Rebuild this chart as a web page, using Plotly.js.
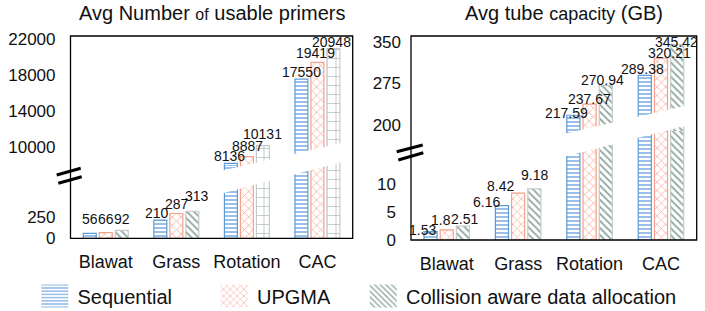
<!DOCTYPE html>
<html><head><meta charset="utf-8">
<script src="https://cdn.plot.ly/plotly-3.0.1.min.js"></script>
<style>html,body{margin:0;padding:0;background:#fff}#chart{width:705px;height:311px}</style>
</head><body><div id="chart"></div>
<script>
// ---------------- data ----------------
const categories = ['Blawat', 'Grass', 'Rotation', 'CAC'];
const seriesNames = ['Sequential', 'UPGMA', 'Collision aware data allocation'];
const primersSequential = [56, 210, 8136, 17550];
const primersUpgma = [66, 287, 8887, 19419];
const primersCollision = [92, 313, 10131, 20948];
const capacitySequential = [1.53, 6.16, 217.59, 289.38];
const capacityUpgma = [1.8, 8.42, 237.67, 320.21];
const capacityCollision = [2.51, 9.18, 270.94, 345.42];
const primersTicksLow = [0, 250];
const primersTicksHigh = [10000, 14000, 18000, 22000];
const capacityTicksLow = [0, 5, 10];
const capacityTicksHigh = [200, 275, 350];

// ---------------- style / layout config ----------------
const W = 705, H = 311;
const px = x => x / W, py = y => 1 - y / H;
const FONT = '"Liberation Sans", Arial, Helvetica, sans-serif';
const BARGAP = 0.32, GROUPGAP = 0.19;
const SLOT = (1 - BARGAP) / 3;

const seriesStyle = [
  {line: '#5B9BD5', fg: '#6FA3DE', shape: '-', size: 4, solidity: 0.35},
  {line: '#F4A08C', fg: '#F6A68F', shape: 'x', size: 6, solidity: 0.22},
  {line: '#C5C9C8', fg: '#93A8A2', shape: '\\', size: 5, solidity: 0.35}
];

// label nudges [dx px, up px] per series per category
const nudgeLeft = [
  [[0.5, 14], [-3, 7], [-1.7, 7.4], [-0.3, 7.4]],
  [[0, 13.3], [0.7, 10], [0.5, 11], [-1.9, 9.1]],
  [[0, 11], [4.7, 15], [-0.5, 11.2], [-1.5, 7]]
];
const nudgeRight = [
  [[-8, 1.5], [-15, 4], [-7, 2], [-2, 6]],
  [[-6, 10], [-18, 7], [0, 5], [9, 5]],
  [[2, 7], [0, 14], [-3, 5.6], [-1, 2]]
];

const panels = [
  {
    series: [primersSequential, primersUpgma, primersCollision],
    ticksLow: primersTicksLow, ticksHigh: primersTicksHigh,
    box: [70.5, 352.7, 36, 238.3], split: 166,
    rangeLow: [0, 836.8], rangeHigh: [7844, 22369],
    xa: 'x', xaKey: 'xaxis', ya: 'y', yaKey: 'yaxis', yb: 'y2', ybKey: 'yaxis2',
    standoffLow: 14, standoffHigh: 14,
    band: {x0: 140, x1: 351.5, ax: 225, uy: 170, us: -0.234, ly: 192.7, ls: -0.263},
    breaks: [[56.7, 175, 80.7, 168.3], [58.3, 183.3, 81.7, 176.7]],
    title: 'Avg Number <span style="font-size:16px">of</span> usable primers', titleX: 211.7,
    collisionShape: ['\\', '\\', '+', '+'], collisionSize: [5, 5, 9, 9], collisionSolidity: [0.35, 0.35, 0.12, 0.12],
    nudge: nudgeLeft, legend: false
  },
  {
    series: [capacitySequential, capacityUpgma, capacityCollision],
    ticksLow: capacityTicksLow, ticksHigh: capacityTicksHigh,
    box: [411, 696.7, 36, 240], split: 131,
    rangeLow: [0, 19.57], rangeHigh: [189.2, 360.3],
    xa: 'x2', xaKey: 'xaxis2', ya: 'y3', yaKey: 'yaxis3', yb: 'y4', ybKey: 'yaxis4',
    standoffLow: 14, standoffHigh: 9,
    band: {x0: 480, x1: 695.5, ax: 566.7, uy: 133.3, us: -0.231, ly: 156, ls: -0.254},
    breaks: [[396.7, 151.7, 422.7, 145], [398.3, 160, 423.3, 152.7]],
    title: 'Avg tube <span style="font-size:18px">capacity</span> (GB)', titleX: 564,
    collisionShape: '\\', collisionSize: 5, collisionSolidity: 0.35,
    nudge: nudgeRight, legend: true
  }
];

const legendNames = ['legend', 'legend2', 'legend3'];
const legendX = [37.5, 217, 366];
const legendCenterY = 296;

const traces = [];
const shapes = [];
const annotations = [];
const layout = {
  width: W, height: H,
  margin: {l: 0, r: 0, t: 0, b: 0, pad: 0, autoexpand: false},
  paper_bgcolor: '#fff', plot_bgcolor: 'rgba(0,0,0,0)',
  font: {family: FONT, color: '#111'},
  barmode: 'group', bargap: BARGAP, bargroupgap: GROUPGAP,
  showlegend: true
};

legendNames.forEach((ln, i) => {
  layout[ln] = {
    x: px(legendX[i]), y: py(legendCenterY), xanchor: 'left', yanchor: 'middle',
    orientation: 'h', bgcolor: 'rgba(0,0,0,0)', borderwidth: 0,
    font: {family: FONT, size: 20, color: '#111'}
  };
});

panels.forEach(p => {
  const [bx0, bx1, by0, by1] = p.box;
  layout[p.xaKey] = {
    domain: [px(bx0), px(bx1)], anchor: p.ya, type: 'category',
    range: [-0.5, categories.length - 0.5],
    showline: false, showgrid: false, zeroline: false, ticks: '',
    tickfont: {family: FONT, size: 18, color: '#111'}, ticklabelstandoff: 11,
    fixedrange: true
  };
  const yCommon = {showline: false, showgrid: false, zeroline: false, ticks: '', anchor: p.xa,
    tickfont: {family: FONT, size: 17, color: '#111'}, fixedrange: true};
  layout[p.yaKey] = Object.assign({}, yCommon, {
    domain: [py(by1), py(p.split)], range: p.rangeLow,
    tickvals: p.ticksLow, ticktext: p.ticksLow.map(String), ticklabelstandoff: p.standoffLow
  });
  layout[p.ybKey] = Object.assign({}, yCommon, {
    domain: [py(p.split), py(by0)], range: p.rangeHigh,
    tickvals: p.ticksHigh, ticktext: p.ticksHigh.map(String), ticklabelstandoff: p.standoffHigh
  });

  p.series.forEach((vals, j) => {
    const st = seriesStyle[j];
    const pattern = {
      shape: j === 2 ? p.collisionShape : st.shape,
      size: j === 2 ? p.collisionSize : st.size,
      solidity: j === 2 ? p.collisionSolidity : st.solidity,
      fgcolor: st.fg, bgcolor: '#ffffff', fillmode: 'replace'
    };
    [p.ya, p.yb].forEach((yax, k) => {
      traces.push({
        type: 'bar', x: categories, y: vals, xaxis: p.xa, yaxis: yax,
        name: seriesNames[j],
        legend: legendNames[j],
        showlegend: p.legend && k === 0,
        marker: {color: st.fg, line: {color: st.line, width: 1.2}, pattern: pattern},
        hoverinfo: 'skip'
      });
    });
    vals.forEach((v, i) => {
      const high = v > p.rangeLow[1];
      const [dx, up] = p.nudge[j][i];
      annotations.push({
        xref: p.xa, yref: high ? p.yb : p.ya,
        x: i + (j - 1) * SLOT, y: v, text: String(v),
        showarrow: false, xanchor: 'center', yanchor: 'middle',
        xshift: dx, yshift: up,
        font: {family: FONT, size: 14, color: '#111'}
      });
    });
  });

  // title
  annotations.push({
    xref: 'paper', yref: 'paper', x: px(p.titleX), y: py(13.1),
    xanchor: 'center', yanchor: 'middle', showarrow: false,
    text: p.title, font: {family: FONT, size: 20, color: '#111'}
  });

  // slanted break band (white gap through the bars)
  const b = p.band;
  const yu = x => b.uy + b.us * (x - b.ax);
  const yl = x => b.ly + b.ls * (x - b.ax);
  shapes.push({
    type: 'path', xref: 'paper', yref: 'paper', layer: 'above',
    path: `M${px(b.x0)},${py(yu(b.x0))} L${px(b.x1)},${py(yu(b.x1))} L${px(b.x1)},${py(yl(b.x1))} L${px(b.x0)},${py(yl(b.x0))} Z`,
    fillcolor: '#ffffff', line: {width: 0}
  });
});

panels.forEach(p => {
  const [bx0, bx1, by0, by1] = p.box;
  shapes.push({
    type: 'rect', xref: 'paper', yref: 'paper', layer: 'above',
    x0: px(bx0), x1: px(bx1), y0: py(by1), y1: py(by0),
    line: {color: '#000', width: 1.3}, fillcolor: 'rgba(0,0,0,0)'
  });
  p.breaks.forEach(m => {
    shapes.push({
      type: 'line', xref: 'paper', yref: 'paper', layer: 'above',
      x0: px(m[0]), y0: py(m[1]), x1: px(m[2]), y1: py(m[3]),
      line: {color: '#000', width: 3}
    });
  });
});

layout.shapes = shapes;
layout.annotations = annotations;

Plotly.newPlot('chart', traces, layout, {displayModeBar: false, staticPlot: true}).then(gd => {
  // larger, borderless legend swatches like the reference
  gd.querySelectorAll('.legendpoints path').forEach(pth => {
    pth.setAttribute('d', 'M10.8,11.5H-16.2V-11.5H10.8Z');
    pth.style.strokeWidth = '0';
  });
});
</script>
</body></html>
